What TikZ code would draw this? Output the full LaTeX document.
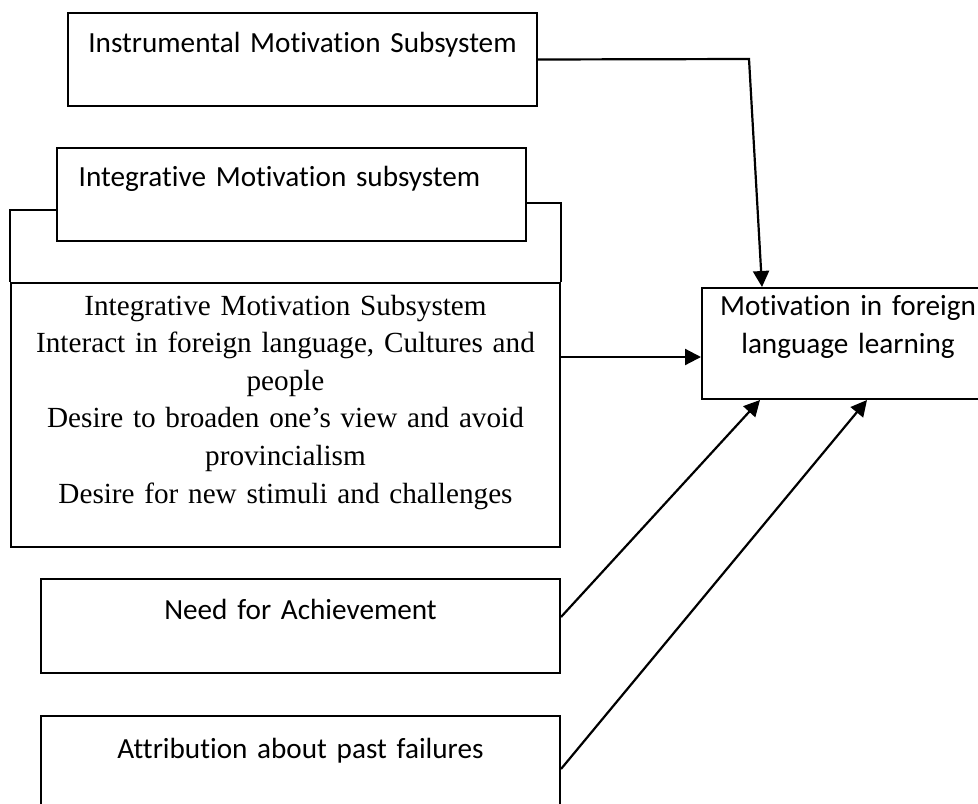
\documentclass[tikz,border=0pt]{standalone}
\usepackage{fontspec}
\setmainfont{Liberation Serif}
\newfontfamily\calibri[Ligatures=NoCommon]{Carlito}
\usepackage{tikz}
\usetikzlibrary{positioning}
\usetikzlibrary{arrows.meta}
\usetikzlibrary{calc}
\tikzstyle{frame}=[draw=black,line width=1pt,inner sep=0pt,anchor=north west]
\tikzstyle{sanslabel}=[anchor=base,inner sep=0pt,text width=300pt,align=center,font={\calibri\fontsize{14.6}{19}\selectfont}]
\tikzstyle{seriflabel}=[anchor=base,inner sep=0pt,text width=270pt,align=center,font={\fontsize{14.6}{18.8}\selectfont}]
\tikzstyle{link}=[line width=1.1pt,-{Triangle[length=8pt,width=8pt]}]

\begin{document}
\begin{tikzpicture}[x=0.5pt,y=-0.5pt]

 \def\u{0.5pt};
 \useasboundingbox (0,0) rectangle (978,803);

  % boxes: left/top/width/height in px
  \foreach \x/\y/\w/\h/\name in {67/12/469/93/instr, 56/147/469/93/integ, 10/282/549/264/integlist,
          701/287/292/111/mot, 40/578/519/94/need, 40/715/519/120/attr}
    \node[frame, minimum width=\w*\u, minimum height=\h*\u] (\name) at (\x,\y) {};

  \node[sanslabel] (instrtxt) at ($(instr.north)+(0,40)$) {Instrumental Motivation Subsystem};
  \node[sanslabel] (integtxt) at ($(integ.north)+(-12,39)$) {Integrative Motivation subsystem};
  \node[sanslabel] (needtxt) at ($(need.north)+(0,41)$) {Need for Achievement};
  \node[sanslabel] (attrtxt) at ($(attr.north)+(0,43)$) {Attribution about past failures};
  \node[sanslabel] (mottxt) at ($(mot.north)+(0,28)$) {Motivation in foreign\\ language learning};
  \node[seriflabel] (listtxt) at ($(integlist.north)+(0,33)$) {Integrative Motivation Subsystem\\
    Interact in foreign language, Cultures and\\ people\\
    Desire to broaden one’s view and avoid\\ provincialism\\
    Desire for new stimuli and challenges};

  % bracket joining the subsystem box to its list
  \draw[line width=1pt] ($(integ.north west)+(0,63)$) -| (integlist.north west);
  \draw[line width=1pt] ($(integ.north east)+(0,56)$) -| (integlist.north east);

  \coordinate (bend) at (749,59);
  \draw[link] (instr.east) -- (bend) -- ($(mot.north west)+(61,0)$);
  \draw[link] ($(integlist.north east)+(0,75)$) -- ($(mot.north west)+(0,70)$);
  \draw[link] ($(need.north east)+(0,39)$) -- ($(mot.south west)+(59,0)$);
  \draw[link] ($(attr.north east)+(0,54)$) -- ($(mot.south west)+(166,0)$);

\end{tikzpicture}
\end{document}
